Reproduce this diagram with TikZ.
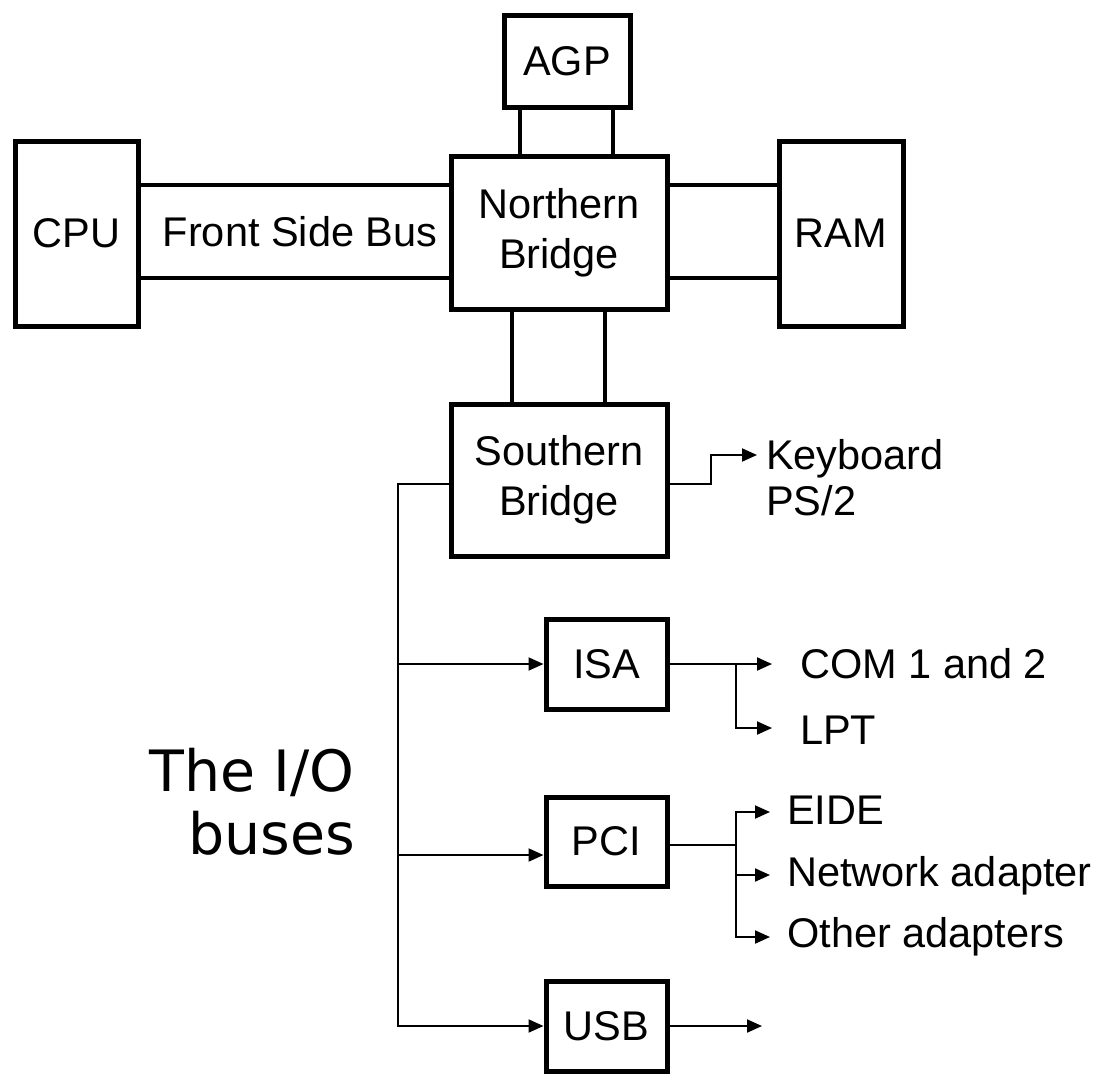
\documentclass[tikz,border=0pt]{standalone}
\usepackage{fontspec}
\setmainfont{Liberation Sans}
\newfontfamily\iofont{DejaVu Sans}
\usetikzlibrary{arrows.meta}
\begin{document}
\begin{tikzpicture}[x=1pt,y=-1pt,
 box/.style={draw,line width=5pt,inner sep=0pt,align=center,font=\fontsize{41.5}{50}\selectfont},
 bus/.style={line width=4.5pt},
 wire/.style={line width=2pt},
 arr/.style={wire,-{Triangle[length=15pt,width=13pt]}},
 lbl/.style={anchor=west,inner sep=0pt,align=left,font=\fontsize{41.5}{46}\selectfont}]
\useasboundingbox[fill=white] (0,0) rectangle (1097,1074);
% boxes
\node[box,minimum width=126pt,minimum height=92pt] (agp) at (567,61) {AGP};
\node[box,minimum width=123pt,minimum height=185pt] (cpu) at (76.5,233.5) {CPU};
\node[box,minimum width=216pt,minimum height=153pt] (nb) at (559,232.5) {Northern\\Bridge};
\node[box,minimum width=124pt,minimum height=185pt] (ram) at (841,233.5) {RAM};
\node[box,minimum width=216pt,minimum height=152pt] (sb) at (559,480) {Southern\\Bridge};
\node[box,minimum width=121pt,minimum height=90pt] (isa) at (606.5,664) {ISA};
\node[box,minimum width=121pt,minimum height=89pt] (pci) at (606.5,841.5) {PCI};
\node[box,minimum width=121pt,minimum height=90pt] (usb) at (606.5,1026) {USB};
% helper coordinates
\coordinate (ya) at (0,185);
\coordinate (yb) at (0,278);
\coordinate (xa1) at (520,0);
\coordinate (xa2) at (613,0);
\coordinate (xs1) at (512,0);
\coordinate (xs2) at (605,0);
\coordinate (ykb) at (0,484);
\coordinate (xkb) at (711,0);
\coordinate (kbtip) at (757,455);
\coordinate (xbus) at (398,0);
\coordinate (ypci) at (0,855);
\coordinate (xisa) at (736,0);
\coordinate (comtip) at (772,664);
\coordinate (lpttip) at (772,728);
\coordinate (ypco) at (0,845);
\coordinate (xpci) at (736,0);
\coordinate (eidetip) at (770,812);
\coordinate (nettip) at (770,875);
\coordinate (othtip) at (770,937);
\coordinate (usbtip) at (762,1026);
% buses between chips
\draw[bus] (cpu.east |- ya) -- (nb.west |- ya);
\draw[bus] (cpu.east |- yb) -- (nb.west |- yb);
\draw[bus] (nb.east |- ya) -- (ram.west |- ya);
\draw[bus] (nb.east |- yb) -- (ram.west |- yb);
\draw[bus] (xa1 |- agp.south) -- (xa1 |- nb.north);
\draw[bus] (xa2 |- agp.south) -- (xa2 |- nb.north);
\draw[bus] (xs1 |- nb.south) -- (xs1 |- sb.north);
\draw[bus] (xs2 |- nb.south) -- (xs2 |- sb.north);
\node[inner sep=0pt,font=\fontsize{41.5}{50}\selectfont] (fsb) at (300,232) {Front Side Bus};
% keyboard
\draw[arr] (sb.east |- ykb) -- (xkb |- ykb) |- (kbtip);
\node[lbl] (kbd) at (766,478) {Keyboard\\PS/2};
% I/O bus
\draw[arr] (sb.west |- ykb) -| (xbus |- usb) -- (usb.west);
\draw[arr] (xbus |- isa) -- (isa.west);
\draw[arr] (xbus |- ypci) -- (pci.west |- ypci);
% ISA outputs
\draw[arr] (isa.east) -- (comtip);
\draw[arr] (xisa |- isa) |- (lpttip);
\node[lbl] (com) at (800,664) {COM 1 and 2};
\node[lbl] (lpt) at (800,730) {LPT};
% PCI outputs
\draw[wire] (pci.east |- ypco) -- (xpci |- ypco);
\draw[arr] (xpci |- ypco) |- (eidetip);
\draw[arr] (xpci |- ypco) |- (othtip);
\draw[arr] (xpci |- nettip) -- (nettip);
\node[lbl] (eide) at (787,810) {EIDE};
\node[lbl] (net) at (787,876) {Network adapter};
\node[lbl] (oth) at (787,937) {Other adapters};
% USB output
\draw[arr] (usb.east) -- (usbtip);
% title
\node[anchor=east,align=right,inner sep=0pt,font=\iofont\fontsize{57}{63}\selectfont] (io) at (355,802) {The I/O\\buses};
\end{tikzpicture}
\end{document}
